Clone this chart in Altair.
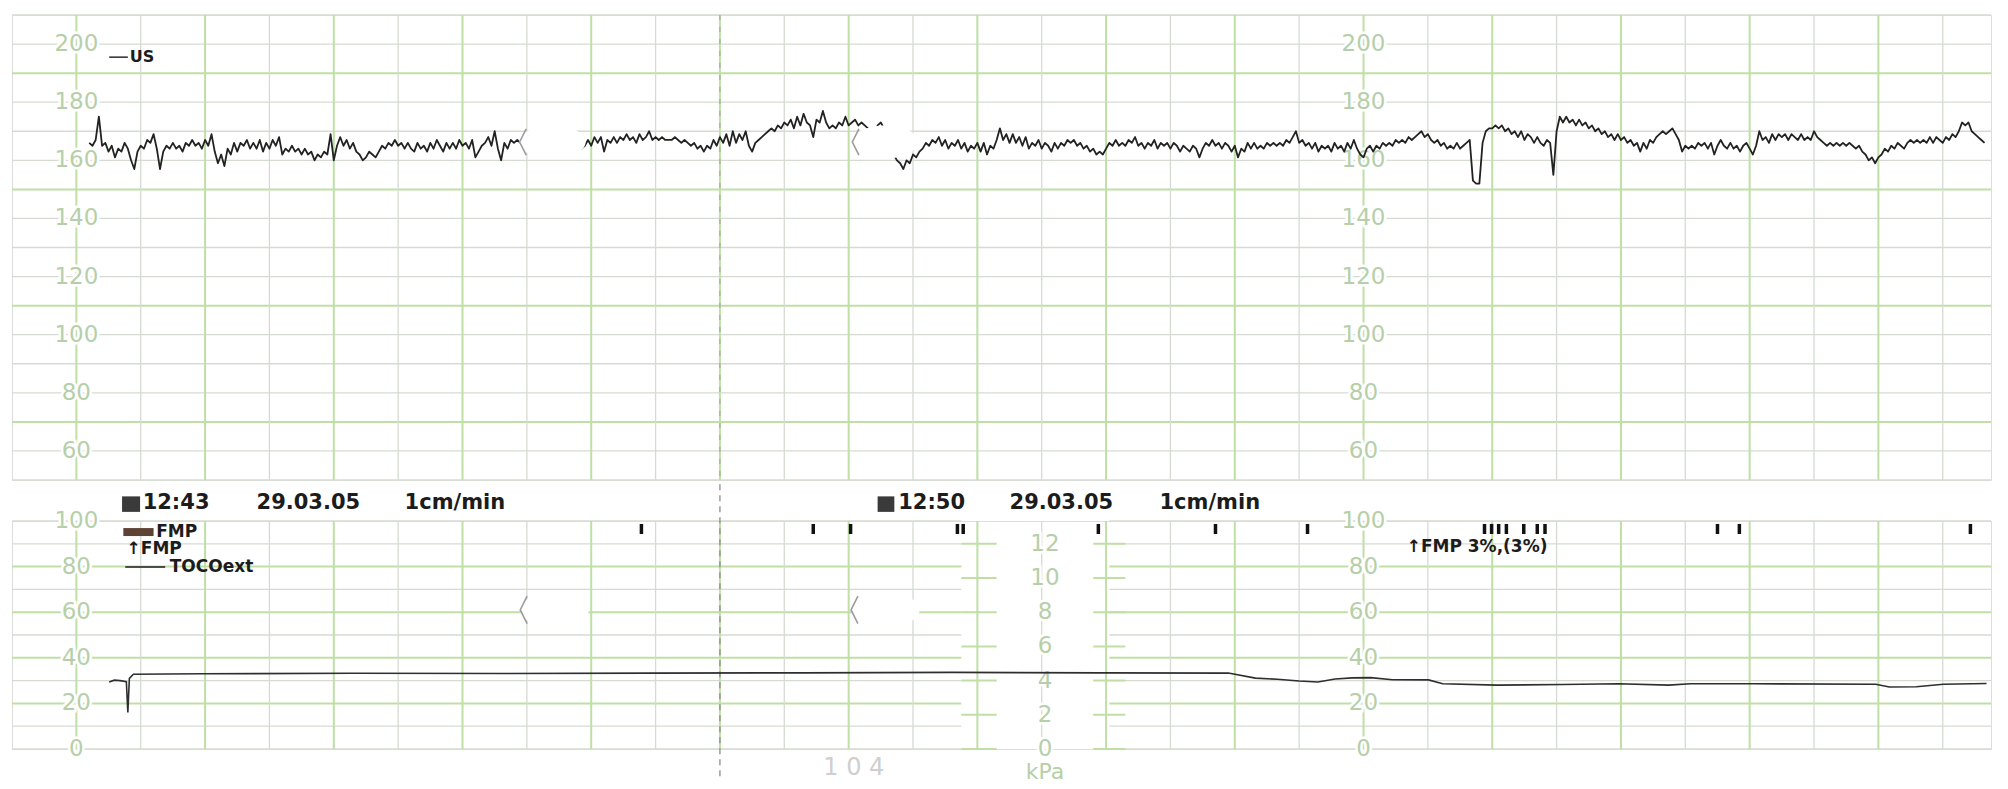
import altair as alt
import pandas as pd

# ---------------- data ----------------
# FHR trace (bpm), sampled every 0.05 chart divisions starting at 0.2
FHR_T0 = 0.2
FHR_DT = 0.05
fhr_values = [
    166,165,167,175,165,166,163,165,161,164, 163,166,164,160,157,163,165,164,167,166,
    169,164,157,163,165,164,166,164,165,163, 166,165,167,165,166,164,167,165,169,163,
    159,162,158,164,162,166,163,166,165,167, 164,166,164,167,163,166,164,167,165,168,
    162,164,163,165,163,164,162,164,162,163, 160,162,161,163,162,169,160,165,168,165,
    167,164,166,163,162,160,161,163,162,161, 163,165,164,166,165,167,165,166,164,166,
    164,163,166,164,165,163,166,164,167,165, 163,166,164,166,164,167,165,166,164,167,
    161,163,165,
    166,168,165,170,164,160,166,164,167,166, 167,166,168,167,166,168,167,166,167,168,
    167,166,168,167,166,167,168,167,166,167, 164,165,167,165,168,166,168,163,167,166,
    168,166,168,167,169,167,168,166,169,167, 168,170,167,168,167,168,167,167,167,168,
    167,166,167,166,165,166,164,165,163,165, 164,167,165,168,166,169,165,170,166,169,
    167,170,165,163,166,167,168,169,170,171, 170,172,171,173,172,174,171,175,172,176,
    173,172,168,174,173,177,173,171,172,171, 173,172,175,172,173,174,172,173,172,171,
    170,169,
    172,173,171,168,165,162,160,159,157,160, 159,162,161,163,164,166,165,167,166,168,
    165,167,164,166,165,167,164,166,163,165, 164,166,163,166,162,165,164,167,171,167,
    169,166,169,166,168,165,168,164,166,165, 167,164,166,165,163,166,164,166,165,167,
    166,167,165,166,164,165,163,164,162,163, 162,164,166,165,167,165,166,165,167,166,
    168,165,166,164,166,165,167,164,166,165, 166,164,166,165,163,165,164,163,165,164,
    161,164,166,165,167,165,166,164,166,165, 163,165,161,164,163,166,164,166,164,165,
    164,166,165,
    166,165,166,165,167,166,168,170,166,167, 165,166,164,166,163,165,164,165,163,166,
    164,165,163,166,164,167,164,162,161,164, 165,163,165,164,166,165,166,165,167,166,
    167,166,168,167,168,169,170,168,169,167, 166,167,165,166,164,165,164,166,164,165,
    166,167,153,152,152,166,170,171,171,172, 171,172,170,171,169,170,168,170,167,169,
    168,166,168,166,165,167,166,155,170,175, 173,175,173,174,172,174,172,173,171,172,
    170,171,169,170,168,169,167,169,167,168, 166,167,165,166,163,166,164,167,166,168,
    169,170,169,
    170,171,169,167,163,165,164,165,164,166, 165,166,164,166,162,165,167,165,164,166,
    164,165,163,165,166,164,162,165,170,167, 168,166,169,167,169,168,169,167,169,168,
    167,169,167,168,167,170,168,167,166,165, 166,165,166,165,166,165,166,165,164,165,
    163,162,160,161,159,161,162,164,163,165, 164,166,165,164,166,167,166,167,166,167,
    166,168,166,168,167,166,168,167,169,168, 170,173,172,173,170,169,168,167,166,
]

# TOCO trace (%)
toco_t = [0.51, 0.59, 0.68, 0.777, 0.80, 0.824, 0.886, 1.96, 4.29, 6.62, 8.95, 11.28,
          13.61, 15.94, 17.90, 18.32, 18.66, 19.00, 19.29, 19.56, 19.83, 20.11, 20.45,
          21.01, 21.23, 22.07, 23.09, 23.96, 24.74, 25.08, 26.06, 27.96, 28.17, 28.59,
          29.01, 29.68]
toco_v = [29.4, 30.2, 30.0, 29.5, 16.0, 31.0, 32.8, 33.0, 33.2, 33.1, 33.3, 33.4,
          33.6, 33.4, 33.3, 31.1, 30.6, 29.8, 29.4, 30.7, 31.2, 31.3, 30.4,
          30.3, 28.6, 28.0, 28.3, 28.6, 28.0, 28.6, 28.6, 28.4, 27.2, 27.3,
          28.4, 28.7]

# fetal movement (FMP) marks
fmp_t = [8.78, 11.45, 12.03, 13.69, 13.78, 15.88, 17.70, 19.13,
         21.88, 21.99, 22.10, 22.22, 22.49, 22.70, 22.82, 25.50, 25.84, 29.43]

fhr_labels = [200, 180, 160, 140, 120, 100, 80, 60]
toco_labels = [100, 80, 60, 40, 20, 0]
kpa_labels = [12, 10, 8, 6, 4, 2, 0]
label_cols = [0, 20]
kpa_col = 15.05

grid_cols = list(range(0, 30))
fhr_grid = list(range(50, 211, 10))
fhr_green = [70, 110, 150, 190]
toco_grid = list(range(0, 101, 10))
toco_green = [20, 40, 60, 80]

# ---------------- styling ----------------
MINOR = "#d5dbd2"
GREEN = "#bfdfa5"
LABEL = "#b6cfa9"
INK = "#1c1c1c"
FONT = "DejaVu Sans"

xs = alt.Scale(domain=[-1, 29.75], nice=False, zero=False)
ys_up = alt.Scale(domain=[50, 210], nice=False, zero=False)
ys_lo = alt.Scale(domain=[0, 100], nice=False, zero=False)

W = 1979
H_UP = 465
H_LO = 228

ELLIPSE = "M-1,0A1,0.5,0,1,0,1,0A1,0.5,0,1,0,-1,0Z"
BRACKET = "M-0.80,-0.40L-1,0L-0.80,0.40"


def X(f="t"):
    return alt.X(f"{f}:Q", scale=xs, axis=None)


def Y(ys, f="v"):
    return alt.Y(f"{f}:Q", scale=ys, axis=None)


def vrules(cols, color, width, ys):
    df = pd.DataFrame({"t": cols})
    return alt.Chart(df).mark_rule(color=color, strokeWidth=width).encode(x=X())


def hrules(vals, color, width, ys):
    df = pd.DataFrame({"v": vals})
    return alt.Chart(df).mark_rule(color=color, strokeWidth=width).encode(y=Y(ys))


def labels(vals, cols, ys, size=23):
    df = pd.DataFrame([{"t": c, "v": v, "s": str(v)} for c in cols for v in vals])
    halo = alt.Chart(df).mark_text(font=FONT, fontSize=size, color="white", stroke="white",
                                   strokeWidth=5, align="center", baseline="middle").encode(
        x=X(), y=Y(ys), text="s:N")
    txt = alt.Chart(df).mark_text(font=FONT, fontSize=size, color=LABEL,
                                  align="center", baseline="middle").encode(
        x=X(), y=Y(ys), text="s:N")
    return [halo, txt]


def text(items, ys, size, color=INK, weight="bold", align="left", font=FONT):
    df = pd.DataFrame(items)
    return alt.Chart(df).mark_text(font=font, fontSize=size, fontWeight=weight, color=color,
                                   align=align, baseline="middle").encode(
        x=X(), y=Y(ys), text="s:N")


def ovals(ts, vs, ys, size):
    df = pd.DataFrame({"t": ts, "v": vs})
    fill = alt.Chart(df).mark_point(shape=ELLIPSE, size=size, filled=True, color="white",
                                    opacity=1).encode(x=X(), y=Y(ys))
    edge = alt.Chart(df).mark_point(shape=BRACKET, size=size, filled=False, color="#9c9c9c",
                                    strokeWidth=1.6, opacity=1).encode(x=X(), y=Y(ys))
    return [fill, edge]


# ---------------- upper panel (FHR) ----------------
fhr_df = pd.DataFrame({"t": [FHR_T0 + FHR_DT * i for i in range(len(fhr_values))],
                       "v": fhr_values})

up_layers = [
    hrules([v for v in fhr_grid if v not in fhr_green], MINOR, 1.3, ys_up),
    hrules(fhr_green, GREEN, 2, ys_up),
    vrules([c for c in grid_cols if c % 2 == 1], MINOR, 1.3, ys_up),
    vrules([c for c in grid_cols if c % 2 == 0], GREEN, 2, ys_up),
    alt.Chart(pd.DataFrame({"t": [10]})).mark_rule(color="#a8a8a8", strokeWidth=1.2,
                                                    strokeDash=[5, 7]).encode(x=X()),
]
up_layers += labels(fhr_labels, label_cols, ys_up)
up_layers.append(
    alt.Chart(fhr_df).mark_line(color="#222222", strokeWidth=1.8, strokeJoin="round").encode(
        x=X(), y=Y(ys_up)))
up_layers += ovals([7.40, 12.57], [166.3, 166.3], ys_up, 4356)
up_layers.append(
    alt.Chart(pd.DataFrame({"t": [0.51], "t2": [0.80], "v": [195.5]})).mark_rule(
        color=INK, strokeWidth=1.4).encode(x=X(), x2=alt.X2("t2:Q"), y=Y(ys_up)))
up_layers.append(text([{"t": 0.83, "v": 195.5, "s": "US"}], ys_up, 16))

upper = alt.layer(*up_layers).properties(width=W, height=H_UP)

# ---------------- lower panel (TOCO) ----------------
seg_rows = []
for v in toco_grid:
    for a, b in [(-1, 13.75), (16.05, 29.75)]:
        seg_rows.append({"t": a, "t2": b, "v": v, "g": v in toco_green})
seg_df = pd.DataFrame(seg_rows)

kpa_rows = []
for k in kpa_labels:
    for a, b in [(13.75, 14.3), (15.8, 16.3)]:
        kpa_rows.append({"t": a, "t2": b, "v": k * 7.5})
kpa_df = pd.DataFrame(kpa_rows)

lo_layers = [
    alt.Chart(seg_df[~seg_df.g]).mark_rule(color=MINOR, strokeWidth=1.3).encode(
        x=X(), x2=alt.X2("t2:Q"), y=Y(ys_lo)),
    alt.Chart(seg_df[seg_df.g]).mark_rule(color=GREEN, strokeWidth=2).encode(
        x=X(), x2=alt.X2("t2:Q"), y=Y(ys_lo)),
    alt.Chart(kpa_df).mark_rule(color=GREEN, strokeWidth=2).encode(
        x=X(), x2=alt.X2("t2:Q"), y=Y(ys_lo)),
    vrules([c for c in grid_cols if c % 2 == 1], MINOR, 1.3, ys_lo),
    vrules([c for c in grid_cols if c % 2 == 0], GREEN, 2, ys_lo),
    alt.Chart(pd.DataFrame({"t": [10], "v": [-12], "v2": [118]})).mark_rule(
        color="#8c8c8c", strokeWidth=1.3, strokeDash=[6, 5]).encode(
        x=X(), y=Y(ys_lo), y2=alt.Y2("v2:Q")),
]
lo_layers += labels(toco_labels, label_cols, ys_lo)
kdf = pd.DataFrame([{"t": kpa_col, "v": k * 7.5, "s": str(k)} for k in kpa_labels])
lo_layers.append(alt.Chart(kdf).mark_text(font=FONT, fontSize=23, color="white", stroke="white",
                                          strokeWidth=5, align="center", baseline="middle").encode(
    x=X(), y=Y(ys_lo), text="s:N"))
lo_layers.append(alt.Chart(kdf).mark_text(font=FONT, fontSize=23, color=LABEL,
                                          align="center", baseline="middle").encode(
    x=X(), y=Y(ys_lo), text="s:N"))

toco_df = pd.DataFrame({"t": toco_t, "v": toco_v})
lo_layers.append(alt.Chart(toco_df).mark_line(color="#2e2e2e", strokeWidth=1.6).encode(
    x=X(), y=Y(ys_lo)))

fmp_df = pd.DataFrame({"t": fmp_t, "v": [94.3] * len(fmp_t), "v2": [98.7] * len(fmp_t)})
lo_layers.append(alt.Chart(fmp_df).mark_rule(color="#111111", strokeWidth=3.5).encode(
    x=X(), y=Y(ys_lo), y2=alt.Y2("v2:Q")))

# header icons and legend swatch
icon_df = pd.DataFrame({"t": [0.71, 12.45], "t2": [0.99, 12.71], "v": [104.0, 104.0],
                        "v2": [110.8, 110.8]})
lo_layers.append(alt.Chart(icon_df).mark_rect(color="#3a3a3a").encode(
    x=X(), x2=alt.X2("t2:Q"), y=Y(ys_lo), y2=alt.Y2("v2:Q")))
sw_df = pd.DataFrame({"t": [0.73], "t2": [1.20], "v": [93.4], "v2": [96.9]})
lo_layers.append(alt.Chart(sw_df).mark_rect(color="#5e4234").encode(
    x=X(), x2=alt.X2("t2:Q"), y=Y(ys_lo), y2=alt.Y2("v2:Q")))
lo_layers.append(alt.Chart(pd.DataFrame({"t": [0.76], "t2": [1.38], "v": [79.8]})).mark_rule(
    color=INK, strokeWidth=1.4).encode(x=X(), x2=alt.X2("t2:Q"), y=Y(ys_lo)))

lo_layers.append(text([
    {"t": 1.03, "v": 107.9, "s": "12:43"},
    {"t": 2.80, "v": 107.9, "s": "29.03.05"},
    {"t": 5.10, "v": 107.9, "s": "1cm/min"},
    {"t": 12.77, "v": 107.9, "s": "12:50"},
    {"t": 14.50, "v": 107.9, "s": "29.03.05"},
    {"t": 16.83, "v": 107.9, "s": "1cm/min"},
], ys_lo, 21))
lo_layers.append(text([
    {"t": 1.24, "v": 95.2, "s": "FMP"},
    {"t": 0.78, "v": 87.7, "s": "↑FMP"},
    {"t": 1.45, "v": 79.8, "s": "TOCOext"},
    {"t": 20.67, "v": 88.6, "s": "↑FMP  3%,(3%)"},
], ys_lo, 17))
lo_layers += ovals([7.43, 12.57], [61.0, 61.0], ys_lo, 4700)
lo_layers.append(text([{"t": kpa_col, "v": -10.2, "s": "kPa"}], ys_lo, 22, color=LABEL,
                      weight="normal", align="center"))
lo_layers.append(text([{"t": 12.08, "v": -8.5, "s": "1 0 4"}], ys_lo, 24, color="#cfcfcf",
                      weight="normal", align="center"))

lower = alt.layer(*lo_layers).properties(width=W, height=H_LO)

chart = alt.vconcat(upper, lower, spacing=41, bounds="flush").properties(
    padding={"left": 2, "top": 5, "right": 5, "bottom": 0}
).configure_view(strokeWidth=0).configure(background="white")

chart.save("out.html", embed_options={"renderer": "svg", "actions": False})
